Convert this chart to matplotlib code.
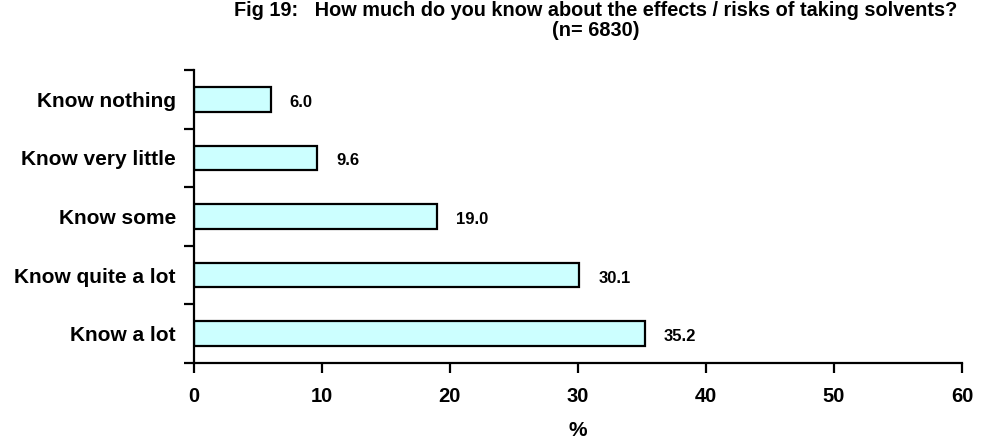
import numpy as np
import matplotlib.pyplot as plt

# ____Data____
categories = ['Know a lot', 'Know quite a lot', 'Know some',
              'Know very little', 'Know nothing']
values = [35.2, 30.1, 19.0, 9.6, 6.0]
x_ticks = [0, 10, 20, 30, 40, 50, 60]

plt.rcParams['font.family'] = ['Liberation Sans', 'DejaVu Sans']
plt.rcParams['font.weight'] = 'bold'

fig = plt.figure(figsize=(9.99, 4.41), dpi=100)
ax = fig.add_axes([0.194, 0.177, 0.769, 0.664])

y = np.arange(len(categories))
ax.barh(y, values, height=0.42, color='#CCFFFF', edgecolor='black',
        linewidth=1.6)

# value labels
for yi, v in zip(y, values):
    ax.text(v + 1.5, yi - 0.05, f"{v:.1f}", va='center', ha='left',
            fontsize=12, fontweight='bold')

ax.set_xlim(0, 60)
ax.set_ylim(-0.5, len(categories) - 0.5)
ax.set_xticks(x_ticks)
ax.set_xticklabels([str(t) for t in x_ticks], fontsize=14.5,
                   fontweight='bold')

# category labels at centres, ticks at band edges
ax.set_yticks(y)
ax.set_yticklabels(categories, fontsize=15, fontweight='bold')
ax.tick_params(axis='y', which='major', length=0, pad=13)
ax.set_yticks(np.arange(-0.5, len(categories), 1.0), minor=True)
ax.tick_params(axis='y', which='minor', length=7, width=1.6, direction='out')
ax.tick_params(axis='x', length=7, width=1.6, direction='out', pad=10)

for s in ['top', 'right']:
    ax.spines[s].set_visible(False)
for s in ['left', 'bottom']:
    ax.spines[s].set_linewidth(1.6)

ax.set_xlabel('%', fontsize=15, fontweight='bold', labelpad=11)

fig.text(0.596, 0.977, "Fig 19:   How much do you know about the effects / risks of taking solvents?",
         ha='center', va='center', fontsize=14.3, fontweight='bold')
fig.text(0.596, 0.93, "(n= 6830)", ha='center', va='center',
         fontsize=14.3, fontweight='bold')

fig.savefig('out.png', dpi=100)
plt.close()
